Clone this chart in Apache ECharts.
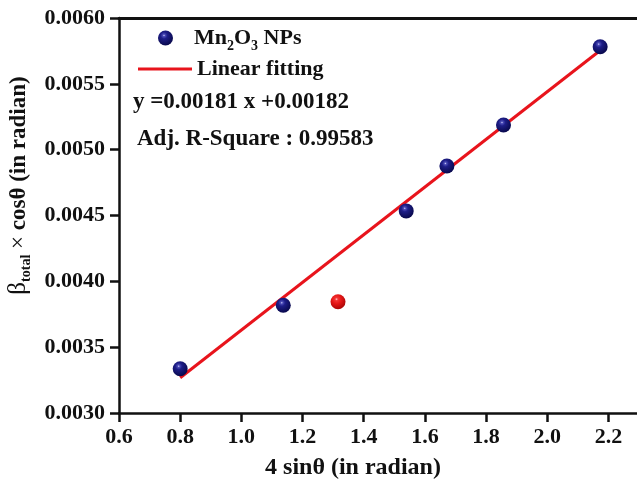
<!DOCTYPE html>
<html>
<head>
<meta charset="utf-8">
<script src="https://cdn.jsdelivr.net/npm/echarts@6/dist/echarts.min.js"></script>
<style>
  html, body { margin: 0; padding: 0; background: #fff; }
  #main { width: 637px; height: 483px; }
</style>
</head>
<body>
<div id="main"></div>
<script>
// 数据
var sinX = [0.800, 1.137, 1.539, 1.672, 1.857, 2.173];
var betaCos = [0.003336, 0.003818, 0.004535, 0.004876, 0.005187, 0.005782];
var outlierX = [1.316];
var outlierY = [0.003845];
var fitX = [0.800, 2.175];
var fitY = [0.003268, 0.005757];
var equationText = 'y =0.00181 x +0.00182';
var r2Text = 'Adj. R-Square : 0.99583';

var serif = "'Liberation Serif', 'Times New Roman', serif";

function pairs(xs, ys) {
    return xs.map(function (x, i) { return [x, ys[i]]; });
}

var blueBall = {
    type: 'radial', x: 0.4, y: 0.33, r: 0.64,
    colorStops: [
        {offset: 0, color: '#d0d0f8'},
        {offset: 0.12, color: '#4c4cb8'},
        {offset: 0.35, color: '#1e1e88'},
        {offset: 1, color: '#0a0a50'}
    ]
};
var redBall = {
    type: 'radial', x: 0.4, y: 0.33, r: 0.64,
    colorStops: [
        {offset: 0, color: '#ffd0d0'},
        {offset: 0.15, color: '#f43434'},
        {offset: 0.5, color: '#e41616'},
        {offset: 1, color: '#b00808'}
    ]
};

var myChart = echarts.init(document.getElementById('main'));

var option = {
    backgroundColor: '#fff',
    animation: false,
    grid: {left: 119, top: 18, right: -2, bottom: 70, outerBoundsMode: 'none'},
    legend: [
        {
            left: 153, top: 22,
            itemWidth: 15, itemHeight: 15,
            data: ['Mn2O3 NPs'],
            formatter: function () { return '{a|Mn}{s|2}{a|O}{s|3}{a| NPs}'; },
            textStyle: {
                padding: [0, 0, 0, 16],
                rich: {
                    a: {fontFamily: serif, fontWeight: 'bold', fontSize: 22, color: '#111'},
                    s: {fontFamily: serif, fontWeight: 'bold', fontSize: 14, color: '#111', padding: [16, 0, 0, 0]}
                }
            }
        },
        {
            left: 133, top: 53,
            itemWidth: 54, itemHeight: 3,
            data: [{name: 'Linear fitting', icon: 'rect'}],
            textStyle: {fontFamily: serif, fontWeight: 'bold', fontSize: 22, color: '#111'}
        }
    ],
    graphic: [
        {type: 'text', left: 133, top: 91,
         style: {text: equationText, font: 'bold 23px ' + serif, fill: '#111'}},
        {type: 'text', left: 137, top: 128,
         style: {text: r2Text, font: 'bold 23px ' + serif, fill: '#111'}}
    ],
    xAxis: [
        {
            type: 'value',
            min: 0.6, max: 2.3, interval: 0.2,
            name: '4 sinθ (in radian)',
            nameLocation: 'middle',
            nameGap: 43,
            nameTextStyle: {fontFamily: serif, fontWeight: 'bold', fontSize: 24, color: '#111', padding: [0, 52, 0, 0]},
            axisLine: {onZero: false, lineStyle: {color: '#111', width: 2.5}},
            axisTick: {inside: false, length: 9, lineStyle: {color: '#111', width: 2.5}},
            axisLabel: {
                margin: 13, showMaxLabel: false,
                fontFamily: serif, fontWeight: 'bold', fontSize: 22, color: '#111',
                formatter: function (v) { return v.toFixed(1); }
            },
            splitLine: {show: false}
        },
        {
            type: 'value', position: 'top',
            min: 0.6, max: 2.3,
            axisLine: {onZero: false, lineStyle: {color: '#111', width: 3}},
            axisTick: {show: false},
            axisLabel: {show: false},
            splitLine: {show: false}
        }
    ],
    yAxis: {
        type: 'value',
        min: 0.003, max: 0.006, interval: 0.0005,
        name: '{b|β}{s|total}{m| × }{t|cosθ (in radian)}',
        nameLocation: 'middle',
        nameRotate: 90,
        nameGap: 80,
        nameTextStyle: {
            padding: [0, 0, 0, 60],
            rich: {
                b: {fontFamily: serif, fontSize: 25, color: '#111'},
                s: {fontFamily: serif, fontWeight: 'bold', fontSize: 14, color: '#111', padding: [16, 0, 0, 0]},
                m: {fontFamily: serif, fontSize: 23, color: '#111'},
                t: {fontFamily: serif, fontWeight: 'bold', fontSize: 23, color: '#111'}
            }
        },
        axisLine: {show: true, onZero: false, lineStyle: {color: '#111', width: 2.5}},
        axisTick: {show: true, inside: false, length: 9, lineStyle: {color: '#111', width: 2.5}},
        axisLabel: {
            margin: 14,
            fontFamily: serif, fontWeight: 'bold', fontSize: 22, color: '#111',
            formatter: function (v) { return v.toFixed(4); }
        },
        splitLine: {show: false}
    },
    series: [
        {
            name: 'Linear fitting',
            type: 'line',
            data: pairs(fitX, fitY),
            showSymbol: false,
            symbol: 'none',
            lineStyle: {color: '#e8141c', width: 3},
            itemStyle: {color: '#e8141c'},
            z: 2
        },
        {
            name: 'Mn2O3 NPs',
            type: 'scatter',
            data: pairs(sinX, betaCos),
            symbolSize: 15,
            itemStyle: {color: blueBall, opacity: 1},
            z: 3
        },
        {
            name: 'outlier',
            type: 'scatter',
            data: pairs(outlierX, outlierY),
            symbolSize: 15,
            itemStyle: {color: redBall, opacity: 1},
            z: 3
        }
    ]
};

myChart.setOption(option);
</script>
</body>
</html>
